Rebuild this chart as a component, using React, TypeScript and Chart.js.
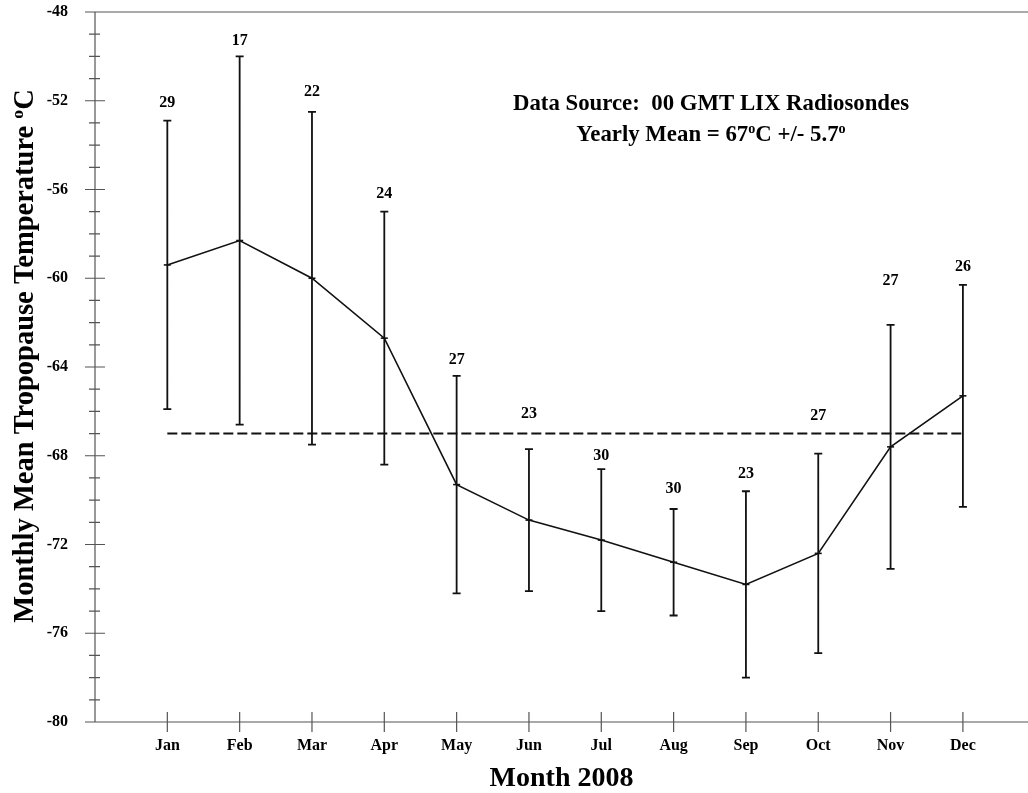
import React, { useEffect, useRef } from 'react';
import { Chart, registerables } from 'chart.js';

Chart.register(...registerables);

// ---------- data ----------
const months = ['Jan', 'Feb', 'Mar', 'Apr', 'May', 'Jun', 'Jul', 'Aug', 'Sep', 'Oct', 'Nov', 'Dec'];
const monthIndex = [1, 2, 3, 4, 5, 6, 7, 8, 9, 10, 11, 12];
const meanTemp = [-59.4, -58.3, -60.0, -62.7, -69.3, -70.9, -71.8, -72.8, -73.8, -72.4, -67.6, -65.3];
const upperBar = [-52.9, -50.0, -52.5, -57.0, -64.4, -67.7, -68.6, -70.4, -69.6, -67.9, -62.1, -60.3];
const lowerBar = [-65.9, -66.6, -67.5, -68.4, -74.2, -74.1, -75.0, -75.2, -78.0, -76.9, -73.1, -70.3];
const counts = [29, 17, 22, 24, 27, 23, 30, 30, 23, 27, 27, 26];
const countLabelY = [-52.1, -49.3, -51.6, -56.2, -63.7, -66.1, -68.0, -69.5, -68.8, -66.2, -60.1, -59.5];
const yearlyMean = -67;
const yTickLabels = [-80, -76, -72, -68, -64, -60, -56, -52, -48];
const yMin = -80;
const yMax = -48;

const SERIF = '"Liberation Serif", "Times New Roman", serif';

type Part = { t: string; sup?: boolean };

function drawRich(ctx: CanvasRenderingContext2D, parts: Part[], x: number, y: number, size: number) {
  const supSize = size * 0.62;
  let total = 0;
  const widths = parts.map((p) => {
    ctx.font = `bold ${p.sup ? supSize : size}px ${SERIF}`;
    const w = ctx.measureText(p.t).width;
    total += w;
    return w;
  });
  let cx = x - total / 2;
  ctx.textAlign = 'left';
  ctx.textBaseline = 'alphabetic';
  parts.forEach((p, i) => {
    ctx.font = `bold ${p.sup ? supSize : size}px ${SERIF}`;
    ctx.fillText(p.t, cx, p.sup ? y - size * 0.36 : y);
    cx += widths[i];
  });
}

const decorPlugin = {
  id: 'decor',
  beforeDatasetsDraw(chart: any) {
    const { ctx, chartArea } = chart;
    const xs = chart.scales.x;
    const ys = chart.scales.y;
    const left = chartArea.left;
    const top = ys.getPixelForValue(yMax);
    const bottom = ys.getPixelForValue(yMin);
    ctx.save();
    ctx.strokeStyle = '#555';
    ctx.lineWidth = 1.2;
    ctx.beginPath();
    ctx.moveTo(left, top);
    ctx.lineTo(left, bottom);
    ctx.moveTo(left - 10, top);
    ctx.lineTo(chartArea.right, top);
    ctx.moveTo(left - 10, bottom);
    ctx.lineTo(chartArea.right, bottom);
    for (let v = yMin; v <= yMax; v++) {
      const py = ys.getPixelForValue(v);
      const major = (v - yMin) % 4 === 0;
      if (major) {
        ctx.moveTo(left - 10, py);
        ctx.lineTo(left + 10, py);
      } else {
        ctx.moveTo(left - 6, py);
        ctx.lineTo(left + 5, py);
      }
    }
    monthIndex.forEach((m) => {
      const px = xs.getPixelForValue(m);
      ctx.moveTo(px, bottom - 10);
      ctx.lineTo(px, bottom + 10);
    });
    ctx.stroke();

    // dashed yearly mean line
    ctx.strokeStyle = '#111';
    ctx.lineWidth = 2;
    ctx.setLineDash([10, 4]);
    ctx.beginPath();
    const my = ys.getPixelForValue(yearlyMean);
    ctx.moveTo(xs.getPixelForValue(monthIndex[0]), my);
    ctx.lineTo(xs.getPixelForValue(monthIndex[monthIndex.length - 1]), my);
    ctx.stroke();
    ctx.setLineDash([]);

    // error bars
    ctx.strokeStyle = '#111';
    ctx.lineWidth = 1.8;
    ctx.beginPath();
    monthIndex.forEach((m, i) => {
      const px = xs.getPixelForValue(m);
      const pu = ys.getPixelForValue(upperBar[i]);
      const pl = ys.getPixelForValue(lowerBar[i]);
      ctx.moveTo(px, pu);
      ctx.lineTo(px, pl);
      ctx.moveTo(px - 4, pu);
      ctx.lineTo(px + 4, pu);
      ctx.moveTo(px - 4, pl);
      ctx.lineTo(px + 4, pl);
    });
    ctx.stroke();
    ctx.restore();
  },
  afterDraw(chart: any) {
    const { ctx, chartArea } = chart;
    const xs = chart.scales.x;
    const ys = chart.scales.y;
    ctx.save();
    ctx.fillStyle = '#000';
    ctx.font = `bold 16px ${SERIF}`;
    ctx.textAlign = 'center';
    ctx.textBaseline = 'middle';
    monthIndex.forEach((m, i) => {
      ctx.fillText(String(counts[i]), xs.getPixelForValue(m), ys.getPixelForValue(countLabelY[i]));
    });
    drawRich(ctx, [{ t: 'Data Source:  00 GMT LIX Radiosondes' }], 711, 110, 22.8);
    drawRich(
      ctx,
      [{ t: 'Yearly Mean = 67' }, { t: 'o', sup: true }, { t: 'C +/- 5.7' }, { t: 'o', sup: true }],
      711,
      141,
      22.8
    );
    drawRich(ctx, [{ t: 'Month 2008' }], (chartArea.left + chartArea.right) / 2, 786, 28);
    ctx.translate(33, (chartArea.top + chartArea.bottom) / 2 - 11);
    ctx.rotate(-Math.PI / 2);
    drawRich(
      ctx,
      [{ t: 'Monthly Mean Tropopause Temperature ' }, { t: 'o', sup: true }, { t: 'C' }],
      0,
      0,
      28.5
    );
    ctx.restore();
  },
};

export default function App() {
  const ref = useRef<HTMLCanvasElement | null>(null);
  useEffect(() => {
    if (!ref.current) return;
    const chart = new Chart(ref.current, {
      type: 'line',
      data: {
        datasets: [
          {
            data: monthIndex.map((m, i) => ({ x: m, y: meanTemp[i] })),
            borderColor: '#111',
            borderWidth: 1.6,
            pointStyle: 'line',
            pointRadius: 3.5,
            pointBorderWidth: 1.6,
            pointBorderColor: '#111',
            pointBackgroundColor: '#111',
            fill: false,
            tension: 0,
          },
        ],
      },
      options: {
        animation: false,
        responsive: false,
        devicePixelRatio: 1,
        layout: { autoPadding: false, padding: { top: 12, left: 0, right: 0, bottom: 0 } },
        plugins: { legend: { display: false }, tooltip: { enabled: false } },
        scales: {
          x: {
            type: 'linear',
            min: 0,
            max: 12.9,
            grid: { display: false, drawTicks: false },
            border: { display: false },
            afterBuildTicks: (s: any) => {
              s.ticks = monthIndex.map((v) => ({ value: v }));
            },
            afterFit: (s: any) => {
              s.height = 71;
              s.paddingLeft = 0;
              s.paddingRight = 0;
              s.paddingTop = 0;
              s.paddingBottom = 0;
            },
            ticks: {
              autoSkip: false,
              maxRotation: 0,
              padding: 14,
              color: '#000',
              font: { family: SERIF, size: 16, weight: 'bold' },
              callback: (v: any) => months[Number(v) - 1] ?? '',
            },
          },
          y: {
            type: 'linear',
            min: yMin,
            max: yMax,
            grid: { display: false, drawTicks: false },
            border: { display: false },
            afterBuildTicks: (s: any) => {
              s.ticks = yTickLabels.map((v) => ({ value: v }));
            },
            afterFit: (s: any) => {
              s.width = 95;
              s.paddingTop = 0;
              s.paddingBottom = 0;
              s.paddingLeft = 0;
              s.paddingRight = 0;
            },
            ticks: {
              padding: 27,
              color: '#000',
              font: { family: SERIF, size: 16, weight: 'bold' },
            },
          },
        },
      },
      plugins: [decorPlugin],
    } as any);
    return () => chart.destroy();
  }, []);
  return (
    <div style={{ position: 'fixed', left: 0, top: 0, width: 1028, height: 793, background: '#fff' }}>
      <canvas ref={ref} width={1028} height={793} />
    </div>
  );
}
